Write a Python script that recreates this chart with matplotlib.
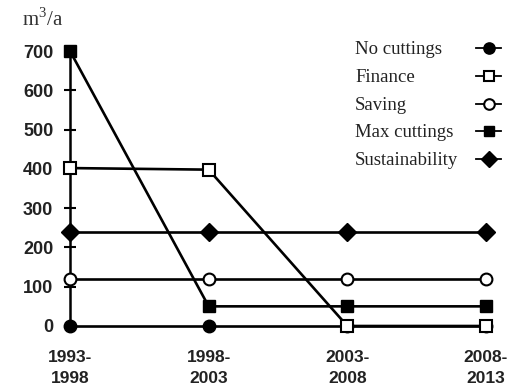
import matplotlib
matplotlib.use("Agg")
import matplotlib.pyplot as plt
from matplotlib.lines import Line2D

plt.rcParams["mathtext.fontset"] = "custom"
plt.rcParams["mathtext.rm"] = "Liberation Serif"

periods = ["1993-\n1998", "1998-\n2003", "2003-\n2008", "2008-\n2013"]
no_cuttings = [0, 0, 0, 0]
finance = [402, 398, 0, 0]
saving = [120, 120, 120, 120]
max_cuttings = [700, 50, 50, 50]
sustainability = [240, 240, 240, 240]
yticks = [0, 100, 200, 300, 400, 500, 600, 700]

series = [
    ("No cuttings", no_cuttings, dict(marker="o", mfc="black", ms=9)),
    ("Finance", finance, dict(marker="s", mfc="white", ms=8.5, mew=1.5)),
    ("Saving", saving, dict(marker="o", mfc="white", ms=8.5, mew=1.5)),
    ("Max cuttings", max_cuttings, dict(marker="s", mfc="black", ms=8.5)),
    ("Sustainability", sustainability, dict(marker="D", mfc="black", ms=9.5)),
]

W, H = 513, 392
fig = plt.figure(figsize=(W / 100, H / 100), dpi=100)
ax = fig.add_axes([70 / W, 1 - 326 / H, (486 - 70) / W, (326 - 51) / H])

x = list(range(len(periods)))
for name, vals, style in series:
    ax.plot(x, vals, color="black", lw=1.9, mec="black", clip_on=False,
            zorder=3, **style)

ax.set_xlim(0, 3)
ax.set_ylim(0, 700)
for s in ["top", "right", "bottom"]:
    ax.spines[s].set_visible(False)
ax.spines["left"].set_linewidth(1.8)

ax.set_yticks(yticks)
ax.set_yticklabels([str(v) for v in yticks], fontweight="bold",
                   fontsize=13, family="Liberation Sans", color="#222222")
ax.tick_params(axis="y", direction="inout", length=9, width=1.5, pad=7.5)

ax.set_xticks(x)
ax.set_xticklabels(periods, fontweight="bold", fontsize=12.5,
                   family="Liberation Sans", linespacing=1.55, color="#222222")
ax.tick_params(axis="x", length=0, pad=17)

fig.text(22 / W, 1 - 26 / H, r"m$^{\mathrm{3}}$/a", family="Liberation Serif",
         fontsize=15, va="baseline", ha="left", color="#333333")

# legend: label on the left, line sample with marker on the right
base_y = [54, 82, 110, 137, 165]
for (name, vals, style), yy in zip(series, base_y):
    fig.text(355 / W, 1 - yy / H, name, family="Liberation Serif",
             fontsize=13.5, ha="left", va="baseline", color="#222222")
    my = 1 - (yy - 6) / H
    st = dict(style)
    st["ms"] = st["ms"] * 0.9
    fig.add_artist(Line2D([476 / W, 501 / W], [my, my],
                          transform=fig.transFigure, color="black", lw=1.3,
                          mec="black", markevery=[], **st))
    fig.add_artist(Line2D([488.5 / W], [my], transform=fig.transFigure,
                          color="black", lw=0, mec="black", **st))

fig.savefig("out.png", dpi=100)
